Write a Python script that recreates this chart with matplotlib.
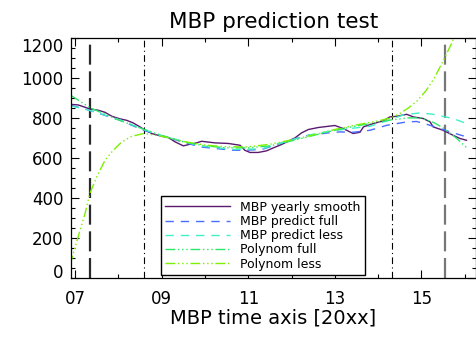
import numpy as np
import matplotlib
matplotlib.use('Agg')
import matplotlib.pyplot as plt
from matplotlib.ticker import MultipleLocator, FixedLocator

# data (x in years, y in MBP units)
smooth_x = [2006.88, 2007.07, 2007.34, 2007.54, 2007.69, 2007.85, 2008.04, 2008.19, 2008.34, 2008.50,
            2008.59, 2008.77, 2009.00, 2009.15, 2009.31, 2009.50, 2009.65, 2009.81, 2009.92, 2010.23,
            2010.54, 2010.81, 2010.92, 2011.04, 2011.23, 2011.42, 2011.58, 2011.77, 2012.08, 2012.23,
            2012.39, 2012.62, 2012.85, 2013.00, 2013.19, 2013.42, 2013.58, 2013.66, 2013.89, 2014.12,
            2014.27, 2014.43, 2014.66, 2014.81, 2015.04, 2015.20, 2015.27, 2015.50, 2015.73, 2015.89,
            2016.04]
smooth_y = [868, 865, 845, 838, 828, 808, 795, 788, 775, 755,
            742, 722, 708, 702, 680, 660, 668, 675, 683, 675,
            672, 663, 638, 627, 627, 635, 650, 667, 700, 725,
            742, 752, 758, 762, 747, 722, 728, 755, 772, 785,
            805, 808, 818, 805, 797, 780, 755, 738, 713, 697,
            688]

full_x = [2006.90, 2007.27, 2008.04, 2008.58, 2009.00, 2009.88, 2010.65, 2010.92, 2011.31, 2011.62,
          2012.00, 2012.39, 2012.85, 2013.12, 2013.42, 2013.81, 2014.20, 2014.66, 2014.89, 2015.20,
          2015.66, 2016.04]
full_y = [863, 842, 788, 738, 710, 655, 638, 638, 642, 663,
          692, 713, 725, 730, 728, 738, 763, 780, 782, 763,
          730, 705]

less_x = [2006.90, 2007.27, 2008.04, 2008.58, 2009.00, 2009.88, 2010.65, 2011.31, 2012.00, 2012.42,
          2012.89, 2013.35, 2013.81, 2014.27, 2014.58, 2014.97, 2015.27, 2015.73, 2016.04]
less_y = [860, 842, 790, 742, 712, 660, 642, 645, 690, 715,
          734, 747, 758, 790, 815, 825, 818, 797, 772]

polyfull_x = [2006.90, 2007.35, 2008.0, 2008.6, 2009.0, 2009.5, 2010.0, 2010.5, 2011.0, 2011.5,
              2012.0, 2012.5, 2013.0, 2013.5, 2014.0, 2014.3, 2014.7, 2015.0, 2015.3, 2015.5,
              2015.8, 2016.05]
polyfull_y = [913, 850, 790, 742, 712, 680, 660, 650, 650, 660,
              685, 712, 738, 760, 778, 790, 800, 800, 775, 750,
              700, 650]

polyless_x = [2006.88, 2007.07, 2007.23, 2007.34, 2007.50, 2007.69, 2007.88, 2008.08, 2008.31, 2008.59,
              2009.0, 2009.5, 2010.0, 2010.5, 2011.0, 2011.5, 2012.0, 2012.5, 2013.0, 2013.5,
              2014.0, 2014.3, 2014.5, 2014.7, 2014.9, 2015.1, 2015.3, 2015.5, 2015.7, 2015.9]
polyless_y = [63, 205, 322, 422, 505, 588, 638, 680, 708, 722,
              708, 682, 664, 655, 655, 668, 690, 715, 742, 765,
              785, 800, 822, 850, 885, 935, 1000, 1085, 1175, 1280]

# fit windows (vertical markers)
full_window = [2007.34, 2015.54]
less_window = [2008.59, 2014.31]

xtick_years = [2007, 2009, 2011, 2013, 2015]
xtick_labels = ['07', '09', '11', '13', '15']
ytick_values = [0, 200, 400, 600, 800, 1000, 1200]

fig = plt.figure(figsize=(4.77, 3.38), dpi=100)
ax = fig.add_axes([71 / 477, 60.3 / 338, 405 / 477, 239.7 / 338])

for xv, c in zip(full_window, ['#2a2a2a', '#777777']):
    ax.axvline(xv, color=c, lw=1.6, ls=(0, (9, 3)))
for xv in less_window:
    ax.axvline(xv, color='black', lw=0.8, ls=(0, (6, 3, 1, 3)))

ax.plot(smooth_x, smooth_y, color='#5a1a6e', lw=1.0, label='MBP yearly smooth')
ax.plot(full_x, full_y, color='#4a6cff', lw=1.0, ls=(0, (6, 5)), label='MBP predict full')
ax.plot(less_x, less_y, color='#3ff0c8', lw=1.0, ls=(0, (6, 5)), label='MBP predict less')
ax.plot(polyfull_x, polyfull_y, color='#2ee86a', lw=1.0,
        ls=(0, (7, 2, 1, 2, 1, 2, 1, 2)), label='Polynom full')
ax.plot(polyless_x, polyless_y, color='#7cf000', lw=1.0,
        ls=(0, (7, 2, 1, 2, 1, 2, 1, 2)), label='Polynom less')

ax.set_xlim(2006.905, 2016.26)
ax.set_ylim(0, 1200)

ax.xaxis.set_major_locator(FixedLocator(xtick_years))
ax.set_xticklabels(xtick_labels)
ax.xaxis.set_minor_locator(MultipleLocator(1))
ax.yaxis.set_major_locator(FixedLocator(ytick_values))
# end labels are drawn separately so they stay inside the axis range
ax.set_yticklabels([''] + [str(v) for v in ytick_values[1:-1]] + [''])
ax.yaxis.set_minor_locator(MultipleLocator(50))

ax.tick_params(which='both', direction='in', top=True, right=True, width=0.8, labelsize=12)
ax.tick_params(which='major', length=6)
ax.tick_params(which='minor', length=3)
ax.tick_params(axis='y', pad=5.5)
ax.tick_params(axis='x', pad=9)
for s in ax.spines.values():
    s.set_linewidth(0.9)

ytrans = ax.get_yaxis_transform()
ax.text(-8 / 405, ytick_values[0], str(ytick_values[0]), transform=ytrans,
        ha='right', va='baseline', fontsize=12)
ax.text(-8 / 405, ytick_values[-1], str(ytick_values[-1]), transform=ytrans,
        ha='right', va='top', fontsize=12)

ax.set_xlabel('MBP time axis [20xx]', fontsize=14, labelpad=0)
ax.set_title('MBP prediction test', fontsize=15.5, pad=7)

leg = ax.legend(loc='lower left', bbox_to_anchor=(0.222, 0.011), borderaxespad=0,
                fontsize=9, handlelength=5.2, handletextpad=0.8, labelspacing=0.1,
                borderpad=0.35, fancybox=False, framealpha=1, edgecolor='black')
leg.get_frame().set_linewidth(1.0)

plt.savefig('out.png', dpi=100)
